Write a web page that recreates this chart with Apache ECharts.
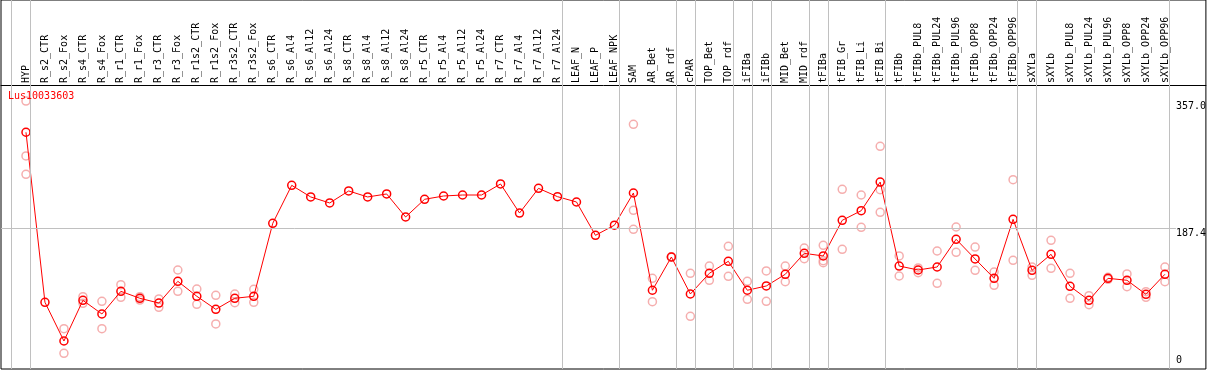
<!DOCTYPE html>
<html><head><meta charset="utf-8">
<script src="https://cdn.jsdelivr.net/npm/echarts@6/dist/echarts.min.js"></script>
<style>html,body{margin:0;padding:0;background:#fff}#c{width:1209px;height:370px}</style>
</head><body><div id="c"></div>
<script>
const geneId = 'Lus10033603';
const categories = ['HYP','R_s2_CTR','R_s2_Fox','R_s4_CTR','R_s4_Fox','R_r1_CTR','R_r1_Fox','R_r3_CTR','R_r3_Fox','R_r1s2_CTR','R_r1s2_Fox','R_r3s2_CTR','R_r3s2_Fox','R_s6_CTR','R_s6_Al4','R_s6_Al12','R_s6_Al24','R_s8_CTR','R_s8_Al4','R_s8_Al12','R_s8_Al24','R_r5_CTR','R_r5_Al4','R_r5_Al12','R_r5_Al24','R_r7_CTR','R_r7_Al4','R_r7_Al12','R_r7_Al24','LEAF_N','LEAF_P','LEAF_NPK','SAM','AR_Bet','AR_rdf','cPAR','TOP_Bet','TOP_rdf','iFIBa','iFIBb','MID_Bet','MID_rdf','tFIBa','tFIB_Gr','tFIB_Li','tFIB_Bi','tFIBb','tFIBb_PUL8','tFIBb_PUL24','tFIBb_PUL96','tFIBb_OPP8','tFIBb_OPP24','tFIBb_OPP96','sXYLa','sXYLb','sXYLb_PUL8','sXYLb_PUL24','sXYLb_PUL96','sXYLb_OPP8','sXYLb_OPP24','sXYLb_OPP96'];
const means = [315.4,88.9,37.3,91.5,73.3,103.5,94.2,87.9,116.8,96.9,79.5,94.2,96.9,194.1,244.7,229.2,221.2,237.2,229.2,233.2,202.5,226.1,230.5,231.8,231.8,246.5,207.8,240.7,229.6,222.5,178.1,191.6,234.5,104.9,149.2,99.9,127.5,143.5,104.9,110.6,126.2,154.1,150.6,198.1,210.9,249.1,137.2,131.9,135.9,172.8,146.6,120.8,199.4,131.5,152.8,110.2,91.5,120.8,118.2,99.5,126.2];
const repA = [357.0,null,53.7,96.3,90.2,112.3,96.3,93.3,131.9,106.6,98.2,99.9,106.2,null,null,null,null,null,null,null,null,null,null,null,null,null,null,null,null,null,null,null,326.0,120.8,149.6,127.5,137.2,163.5,116.8,130.6,137.2,161.2,164.8,239.4,231.8,296.7,150.6,134.6,157.2,189.2,162.5,129.2,252.2,135.9,171.5,127.5,97.7,122.2,126.6,103.0,135.9];
const repB = [283.8,null,20.9,87.5,53.7,95.5,91.9,82.2,103.5,86.2,60.0,88.3,88.9,null,null,null,null,null,null,null,null,null,null,null,null,null,null,null,null,null,null,null,211.4,89.7,148.8,70.2,118.2,123.5,92.9,90.2,116.3,147.0,141.6,159.5,188.8,238.9,123.9,128.3,114.2,155.5,131.5,111.5,144.8,124.8,134.2,94.2,85.7,119.5,109.6,95.5,116.3];
const repC = [259.4,null,null,null,null,null,null,null,null,null,null,null,null,null,null,null,null,null,null,null,null,null,null,null,null,null,null,null,null,null,null,null,186.1,null,null,null,null,null,null,null,null,null,144.3,null,null,208.8,null,null,null,null,null,null,null,null,null,null,null,null,null,null,null];
const groupEnds = [-1,0,28,31,34,35,37,38,39,41,42,45,52,53,60];
const yLabelValues = [187.4, 357.0];
const yZeroLabel = [0];
const refLineValue = 187.4;

const FONT = '"DejaVu Sans Mono", "Liberation Mono", monospace';
const PX_PER_CAT = 19;
const xMin = -25 / PX_PER_CAT;
const xMax = xMin + 1206 / PX_PER_CAT;
const yMax = 369 / 0.7506;
const sepOffset = 4.5 / PX_PER_CAT;
const refLineEnd = (1177 - 1) / PX_PER_CAT + xMin;

const repPoints = [];
[repA, repB, repC].forEach(arr => arr.forEach((v, i) => { if (v != null) repPoints.push([i, v]); }));
const meanPoints = means.map((v, i) => [i, v]);

const sepLines = groupEnds.map(g => ({ xAxis: g + sepOffset }));
const refLine = [{ coord: [xMin, refLineValue] }, { coord: [refLineEnd, refLineValue] }];

const chart = echarts.init(document.getElementById('c'), null, { renderer: 'canvas' });
chart.setOption({
  animation: false,
  backgroundColor: '#fff',
  title: {
    text: geneId, left: 8, top: 91, padding: 0,
    textStyle: { color: '#ff0000', fontSize: 10, fontWeight: 'normal', fontFamily: FONT }
  },
  grid: { left: 1, right: 2, top: 0, bottom: 1, show: true, borderColor: '#000', borderWidth: 1, backgroundColor: 'transparent' },
  xAxis: [{
    type: 'value', position: 'top', offset: -85, min: xMin, max: xMax,
    axisLine: { show: false },
    axisTick: { show: false },
    splitLine: { show: false },
    axisLabel: {
      customValues: categories.map((c, i) => i),
      formatter: v => categories[Math.round(v)] || '',
      rotate: 90, margin: 2, color: '#000', fontSize: 10, fontFamily: FONT, hideOverlap: false
    }
  }, {
    type: 'value', position: 'top', offset: -85, min: xMin, max: xMax,
    axisLine: { show: true, onZero: false, lineStyle: { color: '#000', width: 1 } },
    axisTick: { show: false }, splitLine: { show: false }, axisLabel: { show: false }
  }],
  yAxis: [{
    type: 'value', position: 'right', min: 0, max: yMax,
    axisLine: { show: false }, axisTick: { show: false }, splitLine: { show: false },
    axisLabel: {
      customValues: yLabelValues, inside: true, margin: 30, align: 'left', verticalAlign: 'top',
      formatter: v => v.toFixed(1), color: '#000', fontSize: 10, fontFamily: FONT
    }
  }, {
    type: 'value', position: 'right', min: 0, max: yMax,
    axisLine: { show: false }, axisTick: { show: false }, splitLine: { show: false },
    axisLabel: {
      customValues: yZeroLabel, inside: true, margin: 30, align: 'left', verticalAlign: 'bottom',
      padding: [0, 0, 4, 0],
      formatter: v => String(v), color: '#000', fontSize: 10, fontFamily: FONT
    }
  }],
  series: [{
    type: 'scatter', data: repPoints, symbol: 'circle', symbolSize: 8, z: 2,
    itemStyle: { color: 'rgba(0,0,0,0)', borderColor: '#f29a9a', borderWidth: 1.5 },
    markLine: {
      silent: true, symbol: 'none', label: { show: false }, animation: false,
      lineStyle: { color: '#c0c0c0', width: 1, type: 'solid' },
      data: sepLines.concat([refLine])
    }
  }, {
    type: 'line', data: meanPoints, symbol: 'circle', symbolSize: 8, z: 3,
    lineStyle: { color: '#ff0000', width: 1 },
    itemStyle: { color: 'rgba(0,0,0,0)', borderColor: '#ff0000', borderWidth: 1.5 }
  }]
});
</script></body></html>
